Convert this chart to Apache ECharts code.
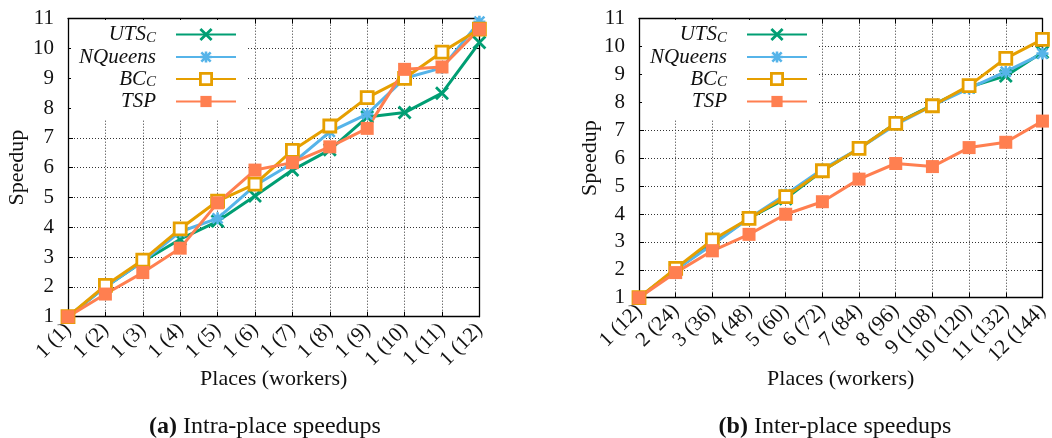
<!DOCTYPE html>
<html>
<head>
<meta charset="utf-8">
<script src="https://cdn.jsdelivr.net/npm/echarts@6/dist/echarts.min.js"></script>
<style>
html,body{margin:0;padding:0;background:#fff;}
#c{width:1052px;height:438px;}
</style>
</head>
<body>
<div id="c"></div>
<script>
// ---- data ----
const catsA = ['1 (1)','1 (2)','1 (3)','1 (4)','1 (5)','1 (6)','1 (7)','1 (8)','1 (9)','1 (10)','1 (11)','1 (12)'];
const catsB = ['1 (12)','2 (24)','3 (36)','4 (48)','5 (60)','6 (72)','7 (84)','8 (96)','9 (108)','10 (120)','11 (132)','12 (144)'];
const yMin = 1, yMax = 11, yStep = 1;

const utsA = [1, 2.0, 2.85, 3.6, 4.2, 5.05, 5.92, 6.6, 7.7, 7.85, 8.5, 10.2];
const nqA  = [1, 2.0, 2.85, 3.85, 4.3, 5.4, 6.15, 7.2, 7.8, 9.0, 9.35, 10.9];
const bcA  = [1, 2.05, 2.9, 3.95, 4.88, 5.45, 6.58, 7.4, 8.35, 9.0, 9.88, 10.65];
const tspA = [1, 1.76, 2.48, 3.3, 4.82, 5.92, 6.17, 6.7, 7.32, 9.3, 9.38, 10.65];

const utsB = [1, 2.0, 2.95, 3.85, 4.55, 5.55, 6.35, 7.25, 7.9, 8.55, 8.95, 9.8];
const nqB  = [1, 2.0, 2.9, 3.85, 4.7, 5.6, 6.35, 7.2, 7.88, 8.5, 9.1, 9.75];
const bcB  = [1, 2.05, 3.07, 3.84, 4.62, 5.55, 6.35, 7.25, 7.88, 8.6, 9.58, 10.26];
const tspB = [1, 1.9, 2.68, 3.27, 3.99, 4.44, 5.25, 5.81, 5.7, 6.38, 6.57, 7.33];

const seriesNames = ['UTSC', 'NQueens', 'BCC', 'TSP'];
const legendLabels = {UTSC: '{m|UTS}{s|C}{g|}', NQueens: '{m|NQueens}{g|}', BCC: '{m|BC}{s|C}{g|}', TSP: '{m|TSP}{g|}'};
const captionA = '{b|(a)} Intra-place speedups';
const captionB = '{b|(b)} Inter-place speedups';
const axisNameX = 'Places (workers)';
const axisNameY = 'Speedup';

// ---- styles ----
const FONT = 'Liberation Serif';
const TXT = '#111';
const COL = {UTSC: '#009e73', NQueens: '#56b4e9', BCC: '#e69f00', TSP: '#ff7f50'};
const LW = 3;
const gridLine = {show: true, interval: 0, lineStyle: {color: '#333', width: 1, type: [1, 2]}};

function symStyle(name) {
  const c = COL[name];
  if (name === 'UTSC') return {symbol: 'path://M0,0L10,10M10,0L0,10', size: 12, style: {color: c, borderColor: c, borderWidth: 2.8}};
  if (name === 'NQueens') return {symbol: 'path://M0,0L10,10M10,0L0,10M5,-1L5,11M-1,5L11,5', size: 12, style: {color: c, borderColor: c, borderWidth: 2.6}};
  if (name === 'BCC') return {symbol: 'rect', size: 12, style: {color: '#fff', borderColor: c, borderWidth: 2.8}};
  return {symbol: 'rect', size: 13, style: {color: c, borderColor: c, borderWidth: 0}};
}

function mkSeries(name, data, xi, yi) {
  const ss = symStyle(name);
  return {
    name, type: 'line', data, xAxisIndex: xi, yAxisIndex: yi, clip: false,
    symbol: ss.symbol, symbolSize: ss.size, itemStyle: ss.style,
    lineStyle: {color: COL[name], width: LW}, emphasis: {disabled: true}, animation: false
  };
}

function catAxis(cats, gi, bottom, nameGap) {
  const tick = {show: true, inside: true, length: 5, interval: 0, lineStyle: {color: '#000'}};
  if (bottom) {
    return {type: 'category', data: cats, gridIndex: gi, boundaryGap: false, position: 'bottom',
      axisLine: {show: true, lineStyle: {color: '#000', width: 1.3}},
      axisTick: tick,
      axisLabel: {interval: 0, hideOverlap: false, rotate: 45, margin: 10, fontFamily: FONT, fontSize: 21, color: TXT},
      splitLine: gridLine,
      name: axisNameX, nameLocation: 'middle', nameGap, nameMoveOverlap: false,
      nameTextStyle: {fontFamily: FONT, fontSize: 22, color: TXT}};
  }
  return {type: 'category', data: cats, gridIndex: gi, boundaryGap: false, position: 'top',
    axisLine: {show: true, lineStyle: {color: '#000', width: 1.3}},
    axisTick: tick,
    axisLabel: {show: false, interval: 0}, splitLine: {show: false}};
}
function valAxis(gi, left, nameGap) {
  const a = {type: 'value', gridIndex: gi, min: yMin, max: yMax, interval: yStep,
    position: left ? 'left' : 'right',
    axisLine: {show: true, lineStyle: {color: '#000', width: 1.3}},
    axisTick: {show: true, inside: true, length: 5, lineStyle: {color: '#000'}}};
  if (left) {
    a.axisLabel = {margin: 14, fontFamily: FONT, fontSize: 21, color: TXT};
    a.splitLine = {show: true, lineStyle: gridLine.lineStyle};
    a.name = axisNameY; a.nameLocation = 'middle'; a.nameGap = nameGap; a.nameMoveOverlap = false;
    a.nameTextStyle = {fontFamily: FONT, fontSize: 22, color: TXT};
  } else {
    a.axisLabel = {show: false}; a.splitLine = {show: false};
  }
  return a;
}
function mkLegend(right) {
  return {
    orient: 'vertical', right, top: 20, align: 'right',
    itemWidth: 60, itemHeight: 14, itemGap: 1,
    padding: [4, 10, 8, 8], backgroundColor: '#fff',
    selectedMode: false,
    data: seriesNames.map(n => ({name: n, itemStyle: symStyle(n).style})),
    formatter: n => legendLabels[n],
    textStyle: {color: TXT, rich: {
      m: {fontFamily: FONT, fontStyle: 'italic', fontSize: 21, lineHeight: 22, color: TXT},
      s: {fontFamily: FONT, fontStyle: 'italic', fontSize: 15, lineHeight: 15, verticalAlign: 'bottom', color: TXT},
      g: {width: 15}
    }}
  };
}

const chart = echarts.init(document.getElementById('c'), null, {renderer: 'canvas'});
chart.setOption({
  animation: false,
  backgroundColor: '#fff',
  grid: [
    {left: 68, right: 1052 - 479.4, top: 18.7, bottom: 438 - 316.7},
    {left: 639, right: 1052 - 1050.4, top: 18.7, bottom: 438 - 297.7}
  ],
  xAxis: [catAxis(catsA, 0, true, 52), catAxis(catsA, 0, false), catAxis(catsB, 1, true, 71), catAxis(catsB, 1, false)],
  yAxis: [valAxis(0, true, 40), valAxis(0, false), valAxis(1, true, 38), valAxis(1, false)],
  legend: [mkLegend(1052 - 247), mkLegend(1052 - 818)],
  series: [
    mkSeries('UTSC', utsA, 0, 0), mkSeries('NQueens', nqA, 0, 0), mkSeries('BCC', bcA, 0, 0), mkSeries('TSP', tspA, 0, 0),
    mkSeries('UTSC', utsB, 2, 2), mkSeries('NQueens', nqB, 2, 2), mkSeries('BCC', bcB, 2, 2), mkSeries('TSP', tspB, 2, 2)
  ],
  graphic: [
    {type: 'text', x: 265, y: 427, style: {text: captionA, textAlign: 'center', textVerticalAlign: 'middle',
      fontFamily: FONT, fontSize: 24, fill: TXT,
      rich: {b: {fontFamily: FONT, fontSize: 24, fontWeight: 'bold', fill: TXT}}}},
    {type: 'text', x: 835, y: 427, style: {text: captionB, textAlign: 'center', textVerticalAlign: 'middle',
      fontFamily: FONT, fontSize: 24, fill: TXT,
      rich: {b: {fontFamily: FONT, fontSize: 24, fontWeight: 'bold', fill: TXT}}}}
  ]
});
</script>
</body>
</html>
